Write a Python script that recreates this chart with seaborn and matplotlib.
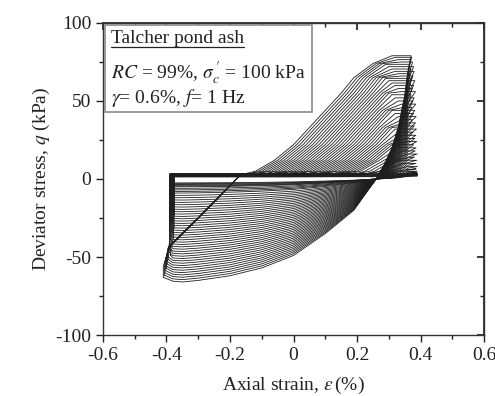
import numpy as np
import pandas as pd
import seaborn as sns
import matplotlib
matplotlib.use("Agg")
import matplotlib.pyplot as plt
from matplotlib.patches import Rectangle
from matplotlib.ticker import MultipleLocator

# --- values ------------------------------------------------------------
# loading branch (strain increasing) of the first loop, q > 0 part
load_eps = [-0.17, -0.12, -0.06, 0.00, 0.05, 0.10, 0.15, 0.19, 0.25, 0.31, 0.34]
load_q = [2, 5, 12, 22, 33, 44, 55, 65, 74, 79, 79]
# steep diagonal the early loops follow below zero while loading
diag_eps = [-0.395, -0.38, -0.30, -0.17]
diag_q = [-46, -41, -25, 2]
# unloading branch (strain decreasing) of the first loop
unload_pos_eps = [0.37, 0.36, 0.35, 0.33, 0.31, 0.285, 0.26]
unload_pos_q = [71, 62, 48, 30, 18, 8, 0]
unload_neg_eps = [0.26, 0.19, 0.10, 0.00, -0.10, -0.20, -0.30, -0.35, -0.38]
unload_neg_q = [0, -20, -35, -49, -57, -62, -65, -66, -65.5]
left_corner_q = -63  # first loop, at the extension reversal

# per cycle values
ext_peak = [66, 64.5, 63, 61.5, 60, 58.5, 57, 55.5, 54, 52.5, 51, 49.5, 48, 46.5,
            45, 43.5, 42, 40.5, 39, 37.5, 36, 34.5, 33, 31.5, 30, 28.5, 27, 25.5,
            24, 22.5, 21, 19.5, 18, 16.5, 15, 13.5, 12, 10.5, 9, 8, 7, 6, 5, 4.5,
            4, 3.5, 3, 2.5]
comp_peak = [79, 78, 76.5, 75, 73.5, 72, 70.5, 69, 67.5, 66, 64.5, 63, 61.5, 60,
             58, 56, 54, 52, 50, 48, 46, 44, 42, 40, 38, 36, 34, 32, 30, 28, 26, 24,
             22, 20, 18, 16, 14, 12, 10, 8, 6.5, 5, 4, 3, 2, 2, 2, 2]
comp_start = [-0.17, -0.16, -0.15, -0.14, -0.13, -0.12, -0.11, -0.10, -0.09, -0.08,
              -0.07, -0.06, -0.05, -0.04, -0.03, -0.02, -0.01, 0.00, 0.01, 0.02,
              0.03, 0.04, 0.05, 0.06, 0.07, 0.08, 0.09, 0.10, 0.11, 0.12, 0.13, 0.14,
              0.15, 0.16, 0.175, 0.19, 0.205, 0.22, 0.235, 0.25, 0.27, 0.29, 0.31,
              0.33, 0.35, 0.37, 0.39, 0.39]
rev_left = [-0.41, -0.407, -0.405, -0.403, -0.40, -0.40, -0.398, -0.397, -0.395, -0.394,
            -0.388, -0.39, -0.386, -0.39, -0.385, -0.39, -0.38, -0.388, -0.378, -0.39,
            -0.382, -0.386, -0.376, -0.39, -0.38, -0.385, -0.378, -0.39, -0.375, -0.386,
            -0.381, -0.39, -0.377, -0.385, -0.39, -0.38, -0.388, -0.376, -0.39, -0.383,
            -0.39, -0.378, -0.386, -0.39, -0.38, -0.39, -0.385, -0.39]
rev_right = [0.37, 0.372, 0.368, 0.375, 0.365, 0.378, 0.37, 0.38, 0.366, 0.376,
             0.372, 0.382, 0.368, 0.378, 0.374, 0.384, 0.37, 0.38, 0.376, 0.385,
             0.372, 0.382, 0.378, 0.386, 0.374, 0.384, 0.38, 0.387, 0.376, 0.385,
             0.382, 0.388, 0.378, 0.386, 0.383, 0.389, 0.38, 0.388, 0.385, 0.39,
             0.386, 0.39, 0.388, 0.39, 0.39, 0.39, 0.39, 0.39]
flat_q = [2.5, 2.0, 3.0, 1.5, 2.5, 3.5, 2.0, 3.0, 1.5, 2.5, 3.0, 2.0, 3.5, 2.5,
          1.5, 3.0, 2.0, 2.5, 3.5, 1.5, 2.5, 3.0, 2.0, 1.5, 3.0, 2.5, 3.5, 2.0,
          1.5, 2.5, 3.0, 2.0, 3.5, 2.5, 1.5, 3.0, 2.0, 2.5, 3.5, 1.5, 2.5, 3.0,
          2.0, 1.5, 3.0, 2.5, 3.5, 2.0]

x_ticks = [-0.6, -0.4, -0.2, 0, 0.2, 0.4, 0.6]
x_labels = ["-0.6", "-0.4", "-0.2", "0", "0.2", "0.4", "0.6"]
y_ticks = [-100, -50, 0, 50, 100]
y_labels = ["-100", "-50", "0", "50", "100"]

# --- build each hysteresis loop from the first-loop outline ---------------
rows = []
for k in range(len(ext_peak)):
    s_neg = ext_peak[k] / 66.0
    e_l, e_r, qf = rev_left[k], rev_right[k], flat_q[k]
    e0, p_max = comp_start[k], comp_peak[k]
    q_left = left_corner_q * s_neg
    eps, q = [e_l], [q_left]
    # reversal at the extension side
    if q_left < diag_q[0]:
        eps += [e_l] + diag_eps
        q += [max(q_left + 7, -56)] + diag_q
    else:
        eps += [e_l]
        q += [qf]
    # flat liquefied part, then compression branch (shifted first-loop curve)
    eps.append(min(e0, e_r)); q.append(qf)
    if e0 < e_r and p_max > qf:
        d = e0 - load_eps[0]
        le = np.array(load_eps) + d
        lq = np.minimum(np.array(load_q, dtype=float), p_max)
        lq = np.maximum(lq, qf)
        keep = le < e_r
        eps += list(le[keep]); q += list(lq[keep])
        q_end = min(p_max, float(np.interp(e_r - d, load_eps, load_q)))
    else:
        q_end = qf
    eps.append(e_r); q.append(q_end)
    # unloading
    s_pos = q_end / unload_pos_q[0]
    eps += unload_pos_eps[1:]
    q += [v * s_pos for v in unload_pos_q[1:]]
    eps += unload_neg_eps[1:] + [e_l]
    q += [v * s_neg for v in unload_neg_q[1:]] + [q_left]
    for i, (a, b) in enumerate(zip(eps, q)):
        rows.append((k, i, a, b))

df = pd.DataFrame(rows, columns=["cycle", "order", "eps", "q"])

# --- plot ------------------------------------------------------------------
sns.set_theme(style="ticks")
plt.rcParams["font.family"] = ["Liberation Serif", "DejaVu Serif"]
plt.rcParams["mathtext.fontset"] = "stix"
plt.rcParams["axes.unicode_minus"] = False

fig = plt.figure(figsize=(4.95, 3.96), dpi=100)
ax = fig.add_axes([0.208, 0.154, 0.77, 0.788])

sns.lineplot(data=df, x="eps", y="q", units="cycle", estimator=None, sort=False,
             color="#1e1e1e", lw=0.6, ax=ax, legend=False)

ax.set_xlim(-0.6, 0.6)
ax.set_ylim(-100, 100)
ax.set_xticks(x_ticks)
ax.set_xticklabels(x_labels)
ax.set_yticks(y_ticks)
ax.set_yticklabels(y_labels)
ax.xaxis.set_minor_locator(MultipleLocator(0.1))
ax.yaxis.set_minor_locator(MultipleLocator(25))
ax.tick_params(which="both", direction="out", labelsize=14, colors="#222222", width=1)
ax.tick_params(which="major", length=5)
ax.tick_params(which="minor", length=3)
for sp in ax.spines.values():
    sp.set_color("#333333")
    sp.set_linewidth(1)

# inward ticks on top and right, no labels
top = ax.secondary_xaxis("top")
top.set_xticks(x_ticks)
top.xaxis.set_minor_locator(MultipleLocator(0.1))
top.tick_params(which="both", direction="in", labeltop=False, colors="#222222")
top.tick_params(which="major", length=5)
top.tick_params(which="minor", length=3)
right = ax.secondary_yaxis("right")
right.set_yticks(y_ticks)
right.yaxis.set_minor_locator(MultipleLocator(25))
right.tick_params(which="both", direction="in", labelright=False, colors="#222222")
right.tick_params(which="major", length=5)
right.tick_params(which="minor", length=3)

ax.set_xlabel(r"Axial strain, $\varepsilon\,$(%)", fontsize=14, color="#222222", labelpad=8)
ax.set_ylabel(r"Deviator stress, $q$ (kPa)", fontsize=14, color="#222222", labelpad=2)

# annotation box
ax.add_patch(Rectangle((0.005, 0.715), 0.544, 0.279, transform=ax.transAxes,
                       facecolor="white", edgecolor="#8a8a8a", lw=1.2, zorder=5))
t1 = ax.text(0.02, 0.936, "Talcher pond ash", transform=ax.transAxes,
             fontsize=14, color="#222222", va="baseline", zorder=6)
ax.text(0.02, 0.823, r"$RC$ = 99%, $\sigma_c^{\,\prime}$ = 100 kPa", transform=ax.transAxes,
        fontsize=14, color="#222222", va="baseline", zorder=6)
ax.text(0.02, 0.742, r"$\gamma$= 0.6%, $f$= 1 Hz", transform=ax.transAxes,
        fontsize=14, color="#222222", va="baseline", zorder=6)

fig.canvas.draw()
bb = t1.get_window_extent().transformed(ax.transAxes.inverted())
ax.plot([bb.x0, bb.x1], [0.922, 0.922], transform=ax.transAxes,
        color="#222222", lw=0.9, zorder=6)

fig.savefig("out.png", dpi=100)
